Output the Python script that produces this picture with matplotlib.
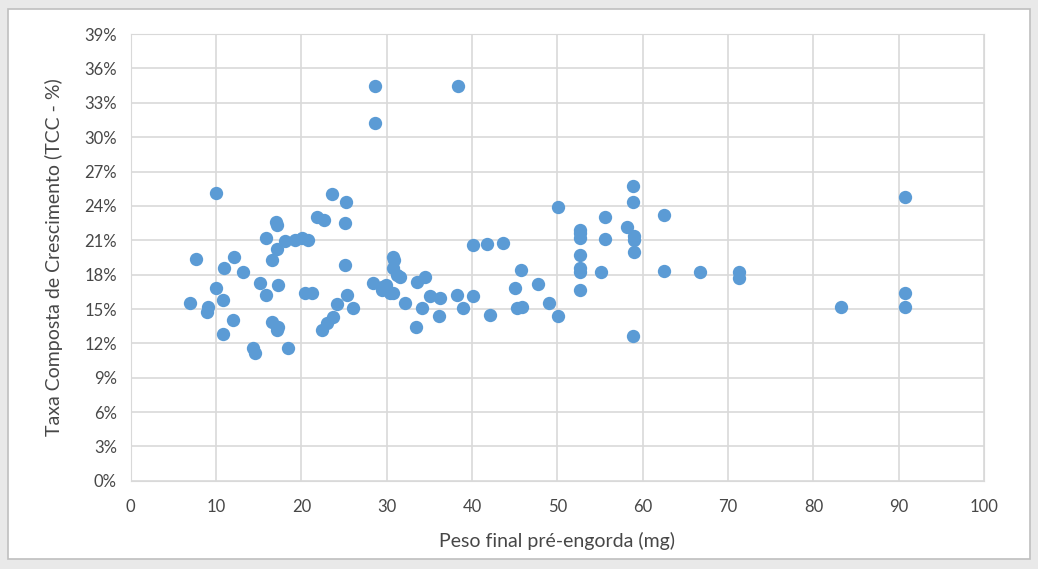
import matplotlib.pyplot as plt
from matplotlib.patches import Rectangle
from matplotlib.ticker import FuncFormatter, MultipleLocator

# peso final (mg) e TCC (%)
peso = [6.9, 7.7, 9.0, 8.9, 10.0, 10.0, 10.8, 10.9, 10.8, 12.1,
        12.0, 13.2, 14.3, 14.5, 15.1, 15.9, 15.9, 16.5, 17.1, 17.2,
        17.0, 17.1, 16.5, 17.2, 17.1, 18.1, 18.4, 19.2, 20.1, 20.8,
        20.4, 21.2, 21.8, 22.7, 22.4, 23.0, 23.6, 23.7, 24.2, 25.2,
        25.1, 25.1, 25.3, 26.0, 28.6, 28.6, 28.4, 29.5, 29.5, 30.4,
        30.7, 30.7, 30.9, 30.7, 31.2, 31.5, 32.1, 33.5, 33.4, 34.5,
        34.1, 35.1, 36.2, 36.1, 38.3, 38.2, 38.9, 40.1, 40.1, 41.7,
        43.6, 42.1, 45.0, 45.7, 45.3, 45.8, 47.7, 49.0, 50.1, 50.1,
        52.6, 52.6, 52.6, 52.6, 52.6, 52.6, 52.6, 55.1, 55.6, 55.6,
        58.1, 58.9, 58.9, 59.0, 59.0, 59.0, 58.9, 62.5, 62.5, 66.7,
        71.3, 71.3, 83.2, 90.7, 90.7, 90.7, 29.9]
tcc = [15.5, 19.4, 15.2, 14.7, 25.1, 16.8, 15.8, 18.6, 12.8, 19.5,
       14.0, 18.2, 11.6, 11.2, 17.3, 16.2, 21.2, 19.3, 20.2, 17.1,
       22.6, 22.3, 13.9, 13.4, 13.2, 20.9, 11.6, 21.0, 21.2, 21.0,
       16.4, 16.4, 23.0, 22.8, 13.2, 13.8, 25.0, 14.3, 15.4, 24.3,
       22.5, 18.8, 16.2, 15.1, 34.5, 31.2, 17.3, 16.9, 16.7, 16.4,
       16.4, 19.5, 19.3, 18.6, 18.0, 17.8, 15.5, 17.4, 13.4, 17.8,
       15.1, 16.1, 16.0, 14.4, 34.5, 16.2, 15.1, 16.1, 20.6, 20.7,
       20.8, 14.5, 16.8, 18.4, 15.1, 15.2, 17.2, 15.5, 14.4, 23.9,
       21.9, 21.2, 21.6, 19.7, 18.2, 18.6, 16.7, 18.2, 23.0, 21.1,
       22.2, 25.7, 24.3, 21.0, 21.4, 20.0, 12.6, 23.2, 18.3, 18.2,
       18.2, 17.7, 15.2, 24.8, 16.4, 15.2, 17.1]

plt.rcParams['font.family'] = ['Lato', 'DejaVu Sans']
txt = '#474747'

fig = plt.figure(figsize=(10.38, 5.69), dpi=100)
fig.patch.set_facecolor('#e9e9e9')
# moldura branca do grafico (atras dos eixos)
fig.patches.append(Rectangle((0.008, 0.018), 0.984, 0.966, transform=fig.transFigure,
                             facecolor='white', edgecolor='#bfbfbf', lw=1.2, zorder=-10))

ax = fig.add_axes([0.126, 0.155, 0.822, 0.785])
ax.set_zorder(1)
ax.scatter(peso, tcc, s=92, color='#5b9bd5', zorder=3, linewidths=0)

ax.set_xlim(0, 100)
ax.set_ylim(0, 39)
ax.xaxis.set_major_locator(MultipleLocator(10))
ax.yaxis.set_major_locator(MultipleLocator(3))
ax.yaxis.set_major_formatter(FuncFormatter(lambda v, p: f'{v:.0f}%'))
ax.grid(True, color='#d9d9d9', lw=1.2)
ax.set_axisbelow(True)
ax.tick_params(axis='x', length=0, labelsize=12, colors=txt, pad=13)
ax.tick_params(axis='y', length=0, labelsize=12, colors=txt, pad=10)
for s in ax.spines.values():
    s.set_color('#d9d9d9')

ax.set_xlabel('Peso final pré-engorda (mg)', fontsize=14, color=txt)
ax.set_ylabel('Taxa Composta de Crescimento (TCC - %)', fontsize=14, color=txt)
ax.xaxis.set_label_coords(0.5, -0.115)
ax.yaxis.set_label_coords(-0.079, 0.5)

fig.savefig('out.png', dpi=100, facecolor=fig.get_facecolor())
